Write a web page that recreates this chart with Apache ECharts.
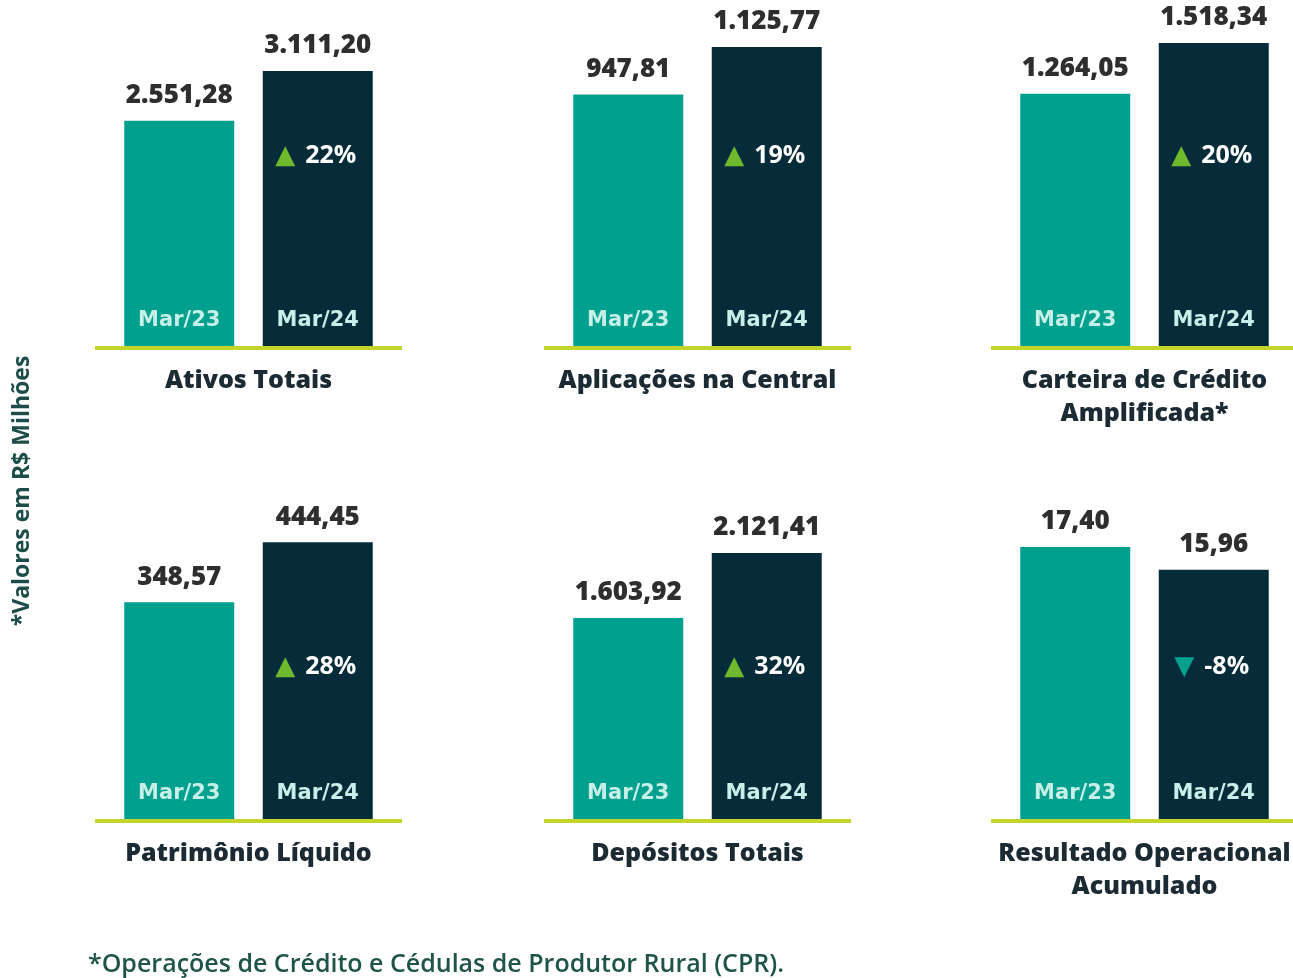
<!DOCTYPE html>
<html>
<head>
<meta charset="utf-8">
<script src="https://cdn.jsdelivr.net/npm/echarts@6/dist/echarts.min.js"></script>
<style>
  html, body { margin: 0; padding: 0; background: #fff; }
  #chart { width: 1293px; height: 978px; }
</style>
</head>
<body>
<div id="chart"></div>
<script>
// values in R$ millions
const panels = [
  'Ativos Totais',
  'Aplicações na Central',
  'Carteira de Crédito\nAmplificada*',
  'Patrimônio Líquido',
  'Depósitos Totais',
  'Resultado Operacional\nAcumulado'
];
const periods = ['Mar/23', 'Mar/24'];
const mar23 = [2551.28, 947.81, 1264.05, 348.57, 1603.92, 17.40];
const mar24 = [3111.20, 1125.77, 1518.34, 444.45, 2121.41, 15.96];
const change = [22, 19, 20, 28, 32, -8];
// each panel has its own scale
const axisMax = [3607, 1201, 1598, 512, 2542, 20.4];

const teal = '#00a08f';
const navy = '#062c3a';
const lime = '#c3d52b';
const dark = '#1c2b33';

const colLeft = [110, 559, 1006];
const gridW = 277;
const gridH = 320;
const rowBase = [347, 820];

function fmt(v) {
  const parts = v.toFixed(2).split('.');
  const int = parts[0].replace(/\B(?=(\d{3})+(?!\d))/g, '.');
  return int + ',' + parts[1];
}

const grid = [], xAxis = [], yAxis = [], series = [], title = [], graphic = [];

panels.forEach(function (name, i) {
  const col = i % 3, row = Math.floor(i / 3);
  const left = colLeft[col];
  const base = rowBase[row];
  grid.push({ left: left, width: gridW, top: base - gridH, height: gridH });
  xAxis.push({
    type: 'category',
    gridIndex: i,
    data: periods,
    z: 5,
    axisLine: { show: false },
    axisTick: { show: false },
    axisLabel: {
      inside: true,
      margin: 16,
      color: '#c6efe8',
      fontFamily: 'DejaVu Sans',
      fontWeight: 'bold',
      fontSize: 21
    }
  });
  yAxis.push({ type: 'value', gridIndex: i, min: 0, max: axisMax[i], show: false });
  series.push({
    type: 'bar',
    xAxisIndex: i,
    yAxisIndex: i,
    barWidth: 110,
    data: [
      { value: mar23[i], itemStyle: { color: teal } },
      { value: mar24[i], itemStyle: { color: navy } }
    ],
    label: {
      show: true,
      position: 'top',
      distance: 12,
      color: '#2e2e2e',
      fontFamily: 'Open Sans',
      fontWeight: 800,
      fontSize: 26,
      formatter: function (p) { return fmt(p.value); }
    }
  });
  title.push({
    text: name,
    left: left + gridW / 2,
    top: base + 17,
    textAlign: 'center',
    padding: 0,
    textStyle: {
      color: dark,
      fontFamily: 'Open Sans',
      fontWeight: 800,
      fontSize: 25,
      lineHeight: 33
    }
  });
  // lime base line
  graphic.push({
    type: 'rect',
    shape: { x: left - 15, y: base - 1, width: gridW + 30, height: 4 },
    style: { fill: lime },
    z: 10
  });
  // change indicator inside the Mar/24 bar
  const up = change[i] >= 0;
  graphic.push({
    type: 'text',
    x: left + gridW * 0.75 - 2,
    y: row === 0 ? 156 : 667,
    z: 10,
    style: {
      text: '{t|' + (up ? '▲' : '▼') + '}{p|' + change[i] + '%}',
      align: 'center',
      verticalAlign: 'middle',
      rich: {
        t: { fill: up ? '#6fba2c' : teal, fontFamily: 'DejaVu Sans', fontSize: 26, padding: [0, 10, 0, 0] },
        p: { fill: '#ffffff', fontFamily: 'Open Sans', fontWeight: 'bold', fontSize: 25 }
      }
    }
  });
});

graphic.push({
  type: 'text',
  x: 22,
  y: 491,
  rotation: Math.PI / 2,
  style: {
    text: '*Valores em R$ Milhões',
    align: 'center',
    verticalAlign: 'middle',
    fill: '#1d4d48',
    fontFamily: 'Open Sans',
    fontWeight: 'bold',
    fontSize: 23
  }
});
graphic.push({
  type: 'text',
  x: 88,
  y: 965,
  style: {
    text: '*Operações de Crédito e Cédulas de Produtor Rural (CPR).',
    align: 'left',
    verticalAlign: 'middle',
    fill: '#1f5448',
    fontFamily: 'Open Sans',
    fontWeight: 600,
    fontSize: 25
  }
});

const chart = echarts.init(document.getElementById('chart'), null, { renderer: 'canvas' });
chart.setOption({
  backgroundColor: '#ffffff',
  animation: false,
  title: title,
  grid: grid,
  xAxis: xAxis,
  yAxis: yAxis,
  series: series,
  graphic: graphic
});
</script>
</body>
</html>
